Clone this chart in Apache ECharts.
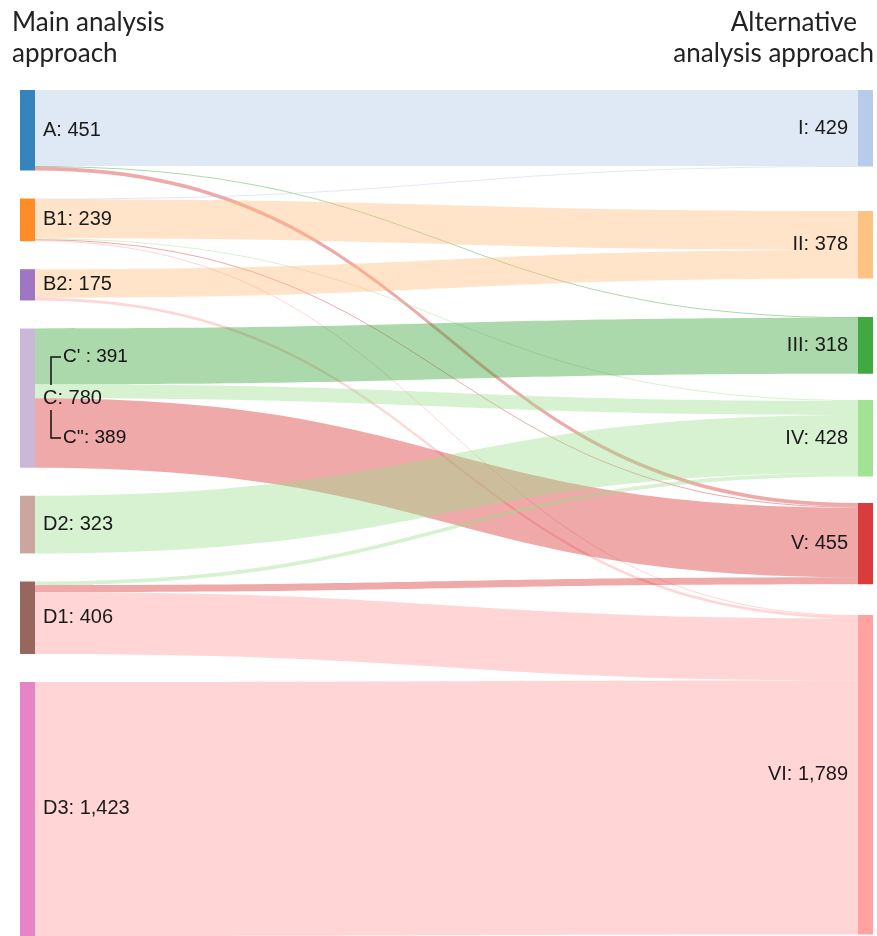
<!DOCTYPE html>
<html>
<head>
<meta charset="utf-8">
<script src="https://cdn.jsdelivr.net/npm/echarts@6/dist/echarts.min.js"></script>
<style>
  html, body { margin: 0; padding: 0; background: #fff; }
  #chart { width: 877px; height: 936px; }
</style>
</head>
<body>
<div id="chart"></div>
<script>
// left column (main analysis) and right column (alternative analysis)
var leftNodes = ['A', 'B1', 'B2', 'C', 'D2', 'D1', 'D3'];
var rightNodes = ['I', 'II', 'III', 'IV', 'V', 'VI'];
var leftColors = ['#1f77b4', '#ff7f0e', '#9467bd', '#c5b0d5', '#c49c94', '#8c564b', '#e377c2'];
var rightColors = ['#aec7e8', '#ffbb78', '#2ca02c', '#98df8a', '#d62728', '#ff9896'];
// vertical placement of the right-hand nodes (fraction of the plot height)
var rightTops = [0, 0.143, 0.2683, 0.3664, 0.4882, 0.6206];

// [source, target, count]
var flows = [
  ['A', 'I', 425], ['A', 'III', 5], ['A', 'V', 21],
  ['B1', 'I', 4], ['B1', 'II', 218], ['B1', 'IV', 6], ['B1', 'V', 6], ['B1', 'VI', 5],
  ['B2', 'II', 160], ['B2', 'VI', 15],
  ['C', 'III', 313], ['C', 'IV', 78], ['C', 'V', 389],
  ['D2', 'IV', 323],
  ['D1', 'IV', 21], ['D1', 'V', 39], ['D1', 'VI', 346],
  ['D3', 'VI', 1423]
];

// sub-groups of C shown with a bracket
var cSplitNames = ["C' : ", "C'': "];
var cSplitValues = [391, 389];

var nodes = [];
leftNodes.forEach(function (n, i) {
  nodes.push({ name: n, itemStyle: { color: leftColors[i] }, label: { position: 'right', distance: 8 } });
});
rightNodes.forEach(function (n, i) {
  nodes.push({ name: n, localY: rightTops[i], itemStyle: { color: rightColors[i] }, label: { position: 'left', distance: 10 } });
});
var links = flows.map(function (f) {
  return { source: f[0], target: f[1], value: f[2] };
});

var chart = echarts.init(document.getElementById('chart'));
var option = {
  animation: false,
  graphic: [
    { type: 'text', left: 12, top: 7,
      style: { text: 'Main analysis\napproach', font: '26px Lato', fill: '#222', lineHeight: 31 } },
    { type: 'text', right: 20, top: 7,
      style: { text: 'Alternative', font: '26px Lato', fill: '#222', lineHeight: 31 } },
    { type: 'text', right: 3, top: 38,
      style: { text: 'analysis approach', font: '26px Lato', fill: '#222', lineHeight: 31 } },
    // bracket for C' / C''
    { type: 'polyline', shape: { points: [[61, 357], [51, 357], [51, 385]] },
      style: { stroke: '#111', lineWidth: 1.5, fill: null }, z: 100 },
    { type: 'polyline', shape: { points: [[51, 410], [51, 438], [61, 438]] },
      style: { stroke: '#111', lineWidth: 1.5, fill: null }, z: 100 },
    { type: 'text', x: 63, y: 357, z: 100,
      style: { text: cSplitNames[0] + cSplitValues[0], font: '19px "Liberation Sans"', fill: '#111', verticalAlign: 'middle' } },
    { type: 'text', x: 63, y: 438, z: 100,
      style: { text: cSplitNames[1] + cSplitValues[1], font: '19px "Liberation Sans"', fill: '#111', verticalAlign: 'middle' } }
  ],
  series: [{
    type: 'sankey',
    left: 20,
    right: 4,
    top: 90,
    bottom: 0,
    nodeWidth: 15,
    nodeGap: 28,
    layoutIterations: 0,
    draggable: false,
    emphasis: { disabled: true },
    data: nodes,
    links: links,
    label: {
      fontFamily: 'Liberation Sans',
      fontSize: 20,
      color: '#1a1a1a',
      formatter: function (p) {
        return p.name + ': ' + p.value.toLocaleString('en-US');
      }
    },
    itemStyle: { borderWidth: 0, opacity: 0.9 },
    lineStyle: { color: 'target', opacity: 0.4, curveness: 0.5 }
  }]
};
chart.setOption(option);
</script>
</body>
</html>
